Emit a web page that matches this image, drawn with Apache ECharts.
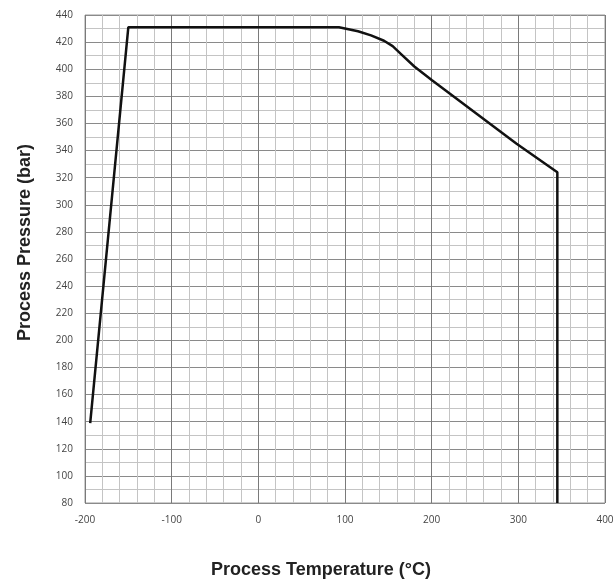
<!DOCTYPE html>
<html><head><meta charset="utf-8">
<script src="https://cdn.jsdelivr.net/npm/echarts@6/dist/echarts.min.js"></script>
<style>html,body{margin:0;padding:0;background:#fff}#c{width:616px;height:583px}</style>
</head><body><div id="c"></div>
<script>
const temps = [-194, -150, 93, 115, 130, 145, 155, 165, 180, 200, 298, 345, 345];
const pressures = [139, 431, 431, 428, 425, 421, 417, 411, 402, 392, 345, 324, 80];
const xTicks = [-200, -100, 0, 100, 200, 300, 400];
const yTicks = [80, 100, 120, 140, 160, 180, 200, 220, 240, 260, 280, 300, 320, 340, 360, 380, 400, 420, 440];

const data = temps.map((t, i) => [t, pressures[i]]);
const chart = echarts.init(document.getElementById('c'));
chart.setOption({
  animation: false,
  grid: {left: 85, right: 11, top: 15, bottom: 80, containLabel: false, outerBoundsMode: 'none',
         show: true, borderColor: '#9a9a9a', borderWidth: 1},
  xAxis: {
    type: 'value', min: xTicks[0], max: xTicks[xTicks.length - 1], interval: 100,
    name: 'Process Temperature (°C)', nameLocation: 'middle', nameGap: 58,
    nameTextStyle: {fontFamily: 'Liberation Sans', fontWeight: 'bold', fontSize: 18, color: '#222', padding: [0, 48, 0, 0]},
    axisLine: {show: false}, axisTick: {show: false},
    axisLabel: {fontFamily: 'Open Sans', fontSize: 10, color: '#444', margin: 12},
    splitLine: {show: true, lineStyle: {color: '#7a7a7a', width: 1}},
    minorTick: {show: false, splitNumber: 5},
    minorSplitLine: {show: true, lineStyle: {color: '#c4c4c4', width: 1}}
  },
  yAxis: {
    type: 'value', min: yTicks[0], max: yTicks[yTicks.length - 1], interval: 20,
    name: 'Process Pressure (bar)', nameLocation: 'middle', nameGap: 51, nameRotate: 90,
    nameTextStyle: {fontFamily: 'Liberation Sans', fontWeight: 'bold', fontSize: 18, color: '#222', padding: [0, 0, 0, 33]},
    axisLine: {show: false}, axisTick: {show: false},
    axisLabel: {fontFamily: 'Open Sans', fontSize: 10, color: '#444', margin: 12},
    splitLine: {show: true, lineStyle: {color: '#8a8a8a', width: 1}},
    minorTick: {show: false, splitNumber: 2},
    minorSplitLine: {show: true, lineStyle: {color: '#c4c4c4', width: 1}}
  },
  series: [{
    type: 'line', data: data, showSymbol: false, symbol: 'none',
    lineStyle: {color: '#111', width: 2.5}
  }]
});
</script></body></html>
